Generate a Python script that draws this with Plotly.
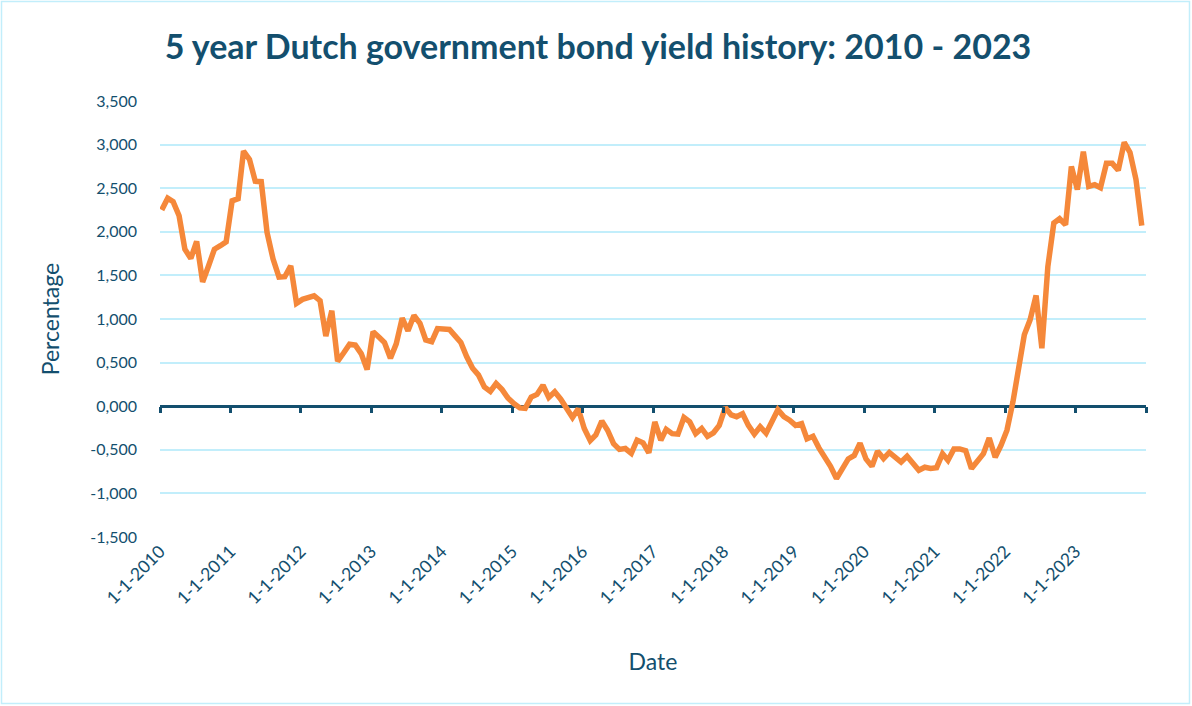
import plotly.graph_objects as go

# Monthly 5-year Dutch government bond yield (percent), Jan 2010 - Dec 2023
y2010 = [2.250, 2.385, 2.345, 2.185, 1.800, 1.695, 1.890, 1.425, 1.610, 1.800, 1.840, 1.885]
y2011 = [2.355, 2.380, 2.925, 2.830, 2.580, 2.575, 1.995, 1.690, 1.480, 1.485, 1.610, 1.180]
y2012 = [1.225, 1.245, 1.265, 1.210, 0.805, 1.095, 0.515, 0.610, 0.710, 0.700, 0.600, 0.420]
y2013 = [0.855, 0.790, 0.730, 0.550, 0.715, 1.010, 0.865, 1.040, 0.950, 0.760, 0.740, 0.890]
y2014 = [0.885, 0.880, 0.810, 0.730, 0.570, 0.435, 0.360, 0.220, 0.170, 0.260, 0.190, 0.095]
y2015 = [0.030, -0.020, -0.025, 0.105, 0.135, 0.240, 0.100, 0.165, 0.080, -0.020, -0.130, -0.030]
y2016 = [-0.255, -0.395, -0.330, -0.170, -0.275, -0.430, -0.495, -0.485, -0.540, -0.390, -0.420, -0.535]
y2017 = [-0.180, -0.390, -0.265, -0.315, -0.320, -0.130, -0.180, -0.315, -0.255, -0.345, -0.305, -0.220]
y2018 = [-0.015, -0.100, -0.120, -0.085, -0.220, -0.320, -0.235, -0.310, -0.175, -0.040, -0.120, -0.160]
y2019 = [-0.220, -0.200, -0.375, -0.345, -0.475, -0.585, -0.690, -0.830, -0.715, -0.605, -0.565, -0.425]
y2020 = [-0.605, -0.690, -0.515, -0.600, -0.530, -0.585, -0.640, -0.575, -0.660, -0.735, -0.700, -0.715]
y2021 = [-0.705, -0.545, -0.620, -0.490, -0.490, -0.510, -0.715, -0.640, -0.545, -0.365, -0.585, -0.450]
y2022 = [-0.275, 0.050, 0.390, 0.820, 0.990, 1.270, 0.665, 1.600, 2.100, 2.150, 2.080, 2.750]
y2023 = [2.485, 2.920, 2.520, 2.540, 2.505, 2.785, 2.785, 2.705, 3.025, 2.910, 2.600, 2.070]

years = list(range(2010, 2024))
yearly = [y2010, y2011, y2012, y2013, y2014, y2015, y2016, y2017,
          y2018, y2019, y2020, y2021, y2022, y2023]

dates = []
values = []
for yr, vals in zip(years, yearly):
    for i, v in enumerate(vals):
        dates.append(f"{yr}-{i + 1:02d}-10")
        values.append(v)

x_tick_vals = [f"{yr}-01-01" for yr in years]
x_tick_text = [f"1-1-{yr}" for yr in years]
x_mark_vals = [f"{yr}-01-01" for yr in years + [2024]]

y_tick_vals = [3.5, 3.0, 2.5, 2.0, 1.5, 1.0, 0.5, 0.0, -0.5, -1.0, -1.5]
y_tick_text = ["3,500", "3,000", "2,500", "2,000", "1,500", "1,000", "0,500",
               "0,000", "-0,500", "-1,000", "-1,500"]

NAVY = "#134F6E"
ORANGE = "#F5883A"
GRID = "#C2EEFB"
FONT = "Lato"

fig = go.Figure()
fig.add_trace(go.Scatter(x=dates, y=values, mode="lines",
                         line=dict(color=ORANGE, width=5.5), hoverinfo="x+y",
                         showlegend=False))
fig.add_trace(go.Scatter(x=[], y=[], xaxis="x2", showlegend=False))

L, R, T, B = 160, 46, 101, 169
W, H = 1192, 706
pw, ph = W - L - R, H - T - B


def px_x(p):
    return (p - L) / pw


def px_y(p):
    return (H - B - p) / ph


fig.update_layout(
    width=W, height=H,
    margin=dict(l=L, r=R, t=T, b=B, autoexpand=False),
    paper_bgcolor="white", plot_bgcolor="white",
    font=dict(family=FONT, color=NAVY, size=16),
    title=dict(text="<b>5 year Dutch government bond yield history: 2010 - 2023</b>",
               x=598 / W, xref="container", xanchor="center",
               y=1 - 47 / H, yref="container", yanchor="middle",
               font=dict(family=FONT, size=34, color=NAVY)),
    xaxis=dict(type="date", range=["2010-01-01", "2024-01-01"],
               tickvals=x_tick_vals, ticktext=x_tick_text, tickangle=-45,
               showgrid=False, showline=False, zeroline=False, ticks="",
               tickfont=dict(family=FONT, size=17.5, color=NAVY),
               title=dict(text="Date", standoff=46,
                          font=dict(family=FONT, size=23, color=NAVY))),
    xaxis2=dict(type="date", range=["2010-01-01", "2024-01-01"],
                overlaying="x", anchor="free", position=0.3, side="bottom",
                tickvals=x_mark_vals, showticklabels=False, ticks="outside",
                ticklen=6, tickwidth=3, tickcolor=NAVY,
                showgrid=False, showline=False, zeroline=False),
    yaxis=dict(range=[-1.5, 3.5], tickvals=y_tick_vals, ticktext=y_tick_text,
               showgrid=True, gridcolor=GRID, gridwidth=1.5,
               zeroline=True, zerolinecolor=NAVY, zerolinewidth=3,
               showline=False, ticks="", ticklabelstandoff=22,
               tickfont=dict(family=FONT, size=16, color=NAVY),
               title=dict(text="Percentage", standoff=24,
                          font=dict(family=FONT, size=23, color=NAVY))),
    shapes=[dict(type="rect", xref="paper", yref="paper",
                 x0=px_x(1.5), x1=px_x(1189.5), y0=px_y(703.5), y1=px_y(1.5),
                 line=dict(color=GRID, width=1.5), fillcolor="rgba(0,0,0,0)",
                 layer="below")],
)

fig.write_html("out.html",
               config={"displayModeBar": False},
               post_script="document.body.style.margin='0';"
                           "document.body.style.overflow='hidden';")
